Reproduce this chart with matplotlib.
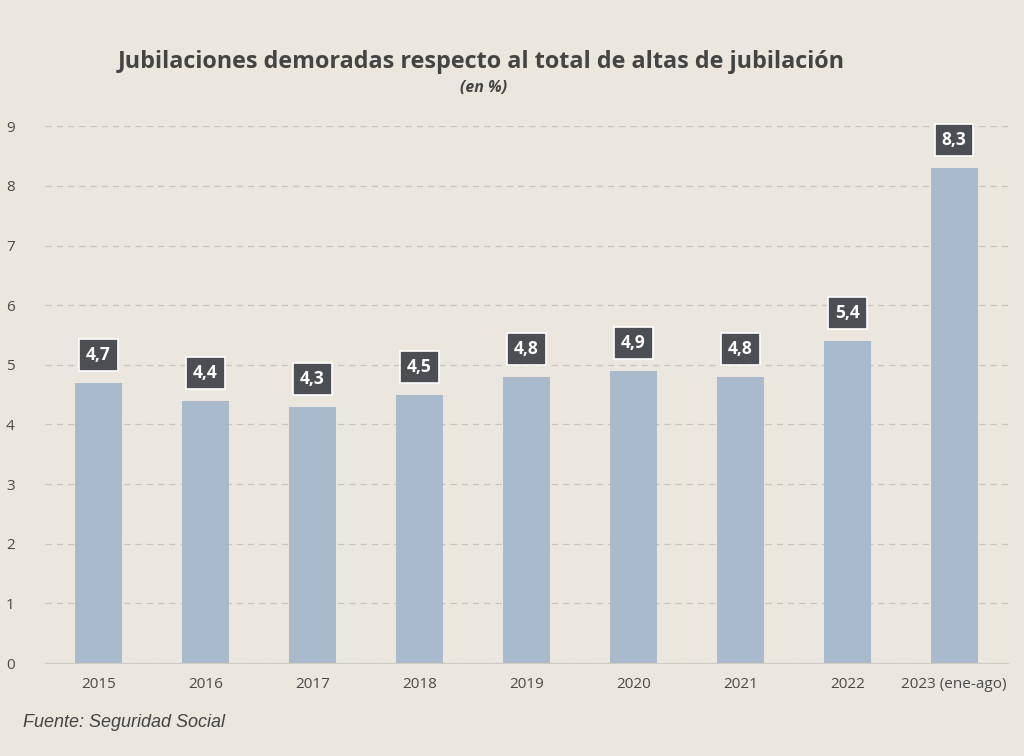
import matplotlib.pyplot as plt

years = ['2015', '2016', '2017', '2018', '2019', '2020', '2021', '2022', '2023 (ene-ago)']
values = [4.7, 4.4, 4.3, 4.5, 4.8, 4.9, 4.8, 5.4, 8.3]

bg = '#ebe6de'
fig = plt.figure(figsize=(10.24, 7.56), dpi=100, facecolor=bg)
ax = fig.add_axes([0.044, 0.123, 0.94, 0.71])
ax.set_facecolor(bg)

x = range(len(years))
ax.bar(x, values, width=0.44, color='#aabacd', zorder=2)

# value labels in dark boxes
for xi, v in zip(x, values):
    ax.annotate(f'{v:.1f}'.replace('.', ','), (xi, v), xytext=(0, 20),
                textcoords='offset points', ha='center', va='center',
                fontsize=12.5, fontweight='bold', color='white', family='Open Sans',
                bbox=dict(boxstyle='square,pad=0.4', fc='#4b4e53', ec='white', lw=1.2),
                zorder=3)

ax.set_xlim(-0.5, len(years) - 0.5)
ax.set_ylim(0, 9)
ax.set_yticks(range(10))
ax.set_xticks(list(x))
ax.set_xticklabels(years)
ax.tick_params(axis='both', length=0, labelsize=11, labelcolor='#4a4a4a')
ax.tick_params(axis='y', pad=22)
ax.tick_params(axis='x', pad=10)
for lab in ax.get_xticklabels() + ax.get_yticklabels():
    lab.set_family('Open Sans')

ax.grid(axis='y', linestyle=(0, (5, 4)), color='#c9c4bb', lw=0.9, zorder=0)
for s in ['top', 'right', 'left']:
    ax.spines[s].set_visible(False)
ax.spines['bottom'].set_color('#cfcac2')

fig.text(0.47, 0.918, 'Jubilaciones demoradas respecto al total de altas de jubilación',
         ha='center', va='center', fontsize=16.8, fontweight='bold', color='#444444',
         family='Open Sans')
fig.text(0.472, 0.883, '(en %)', ha='center', va='center', fontsize=11.5,
         fontstyle='italic', fontweight='bold', color='#444444', family='Open Sans')
fig.text(0.022, 0.044, 'Fuente: Seguridad Social', ha='left', va='center', fontsize=13,
         fontstyle='italic', color='#444444', family='Liberation Sans')

fig.savefig('out.png', dpi=100, facecolor=bg)
